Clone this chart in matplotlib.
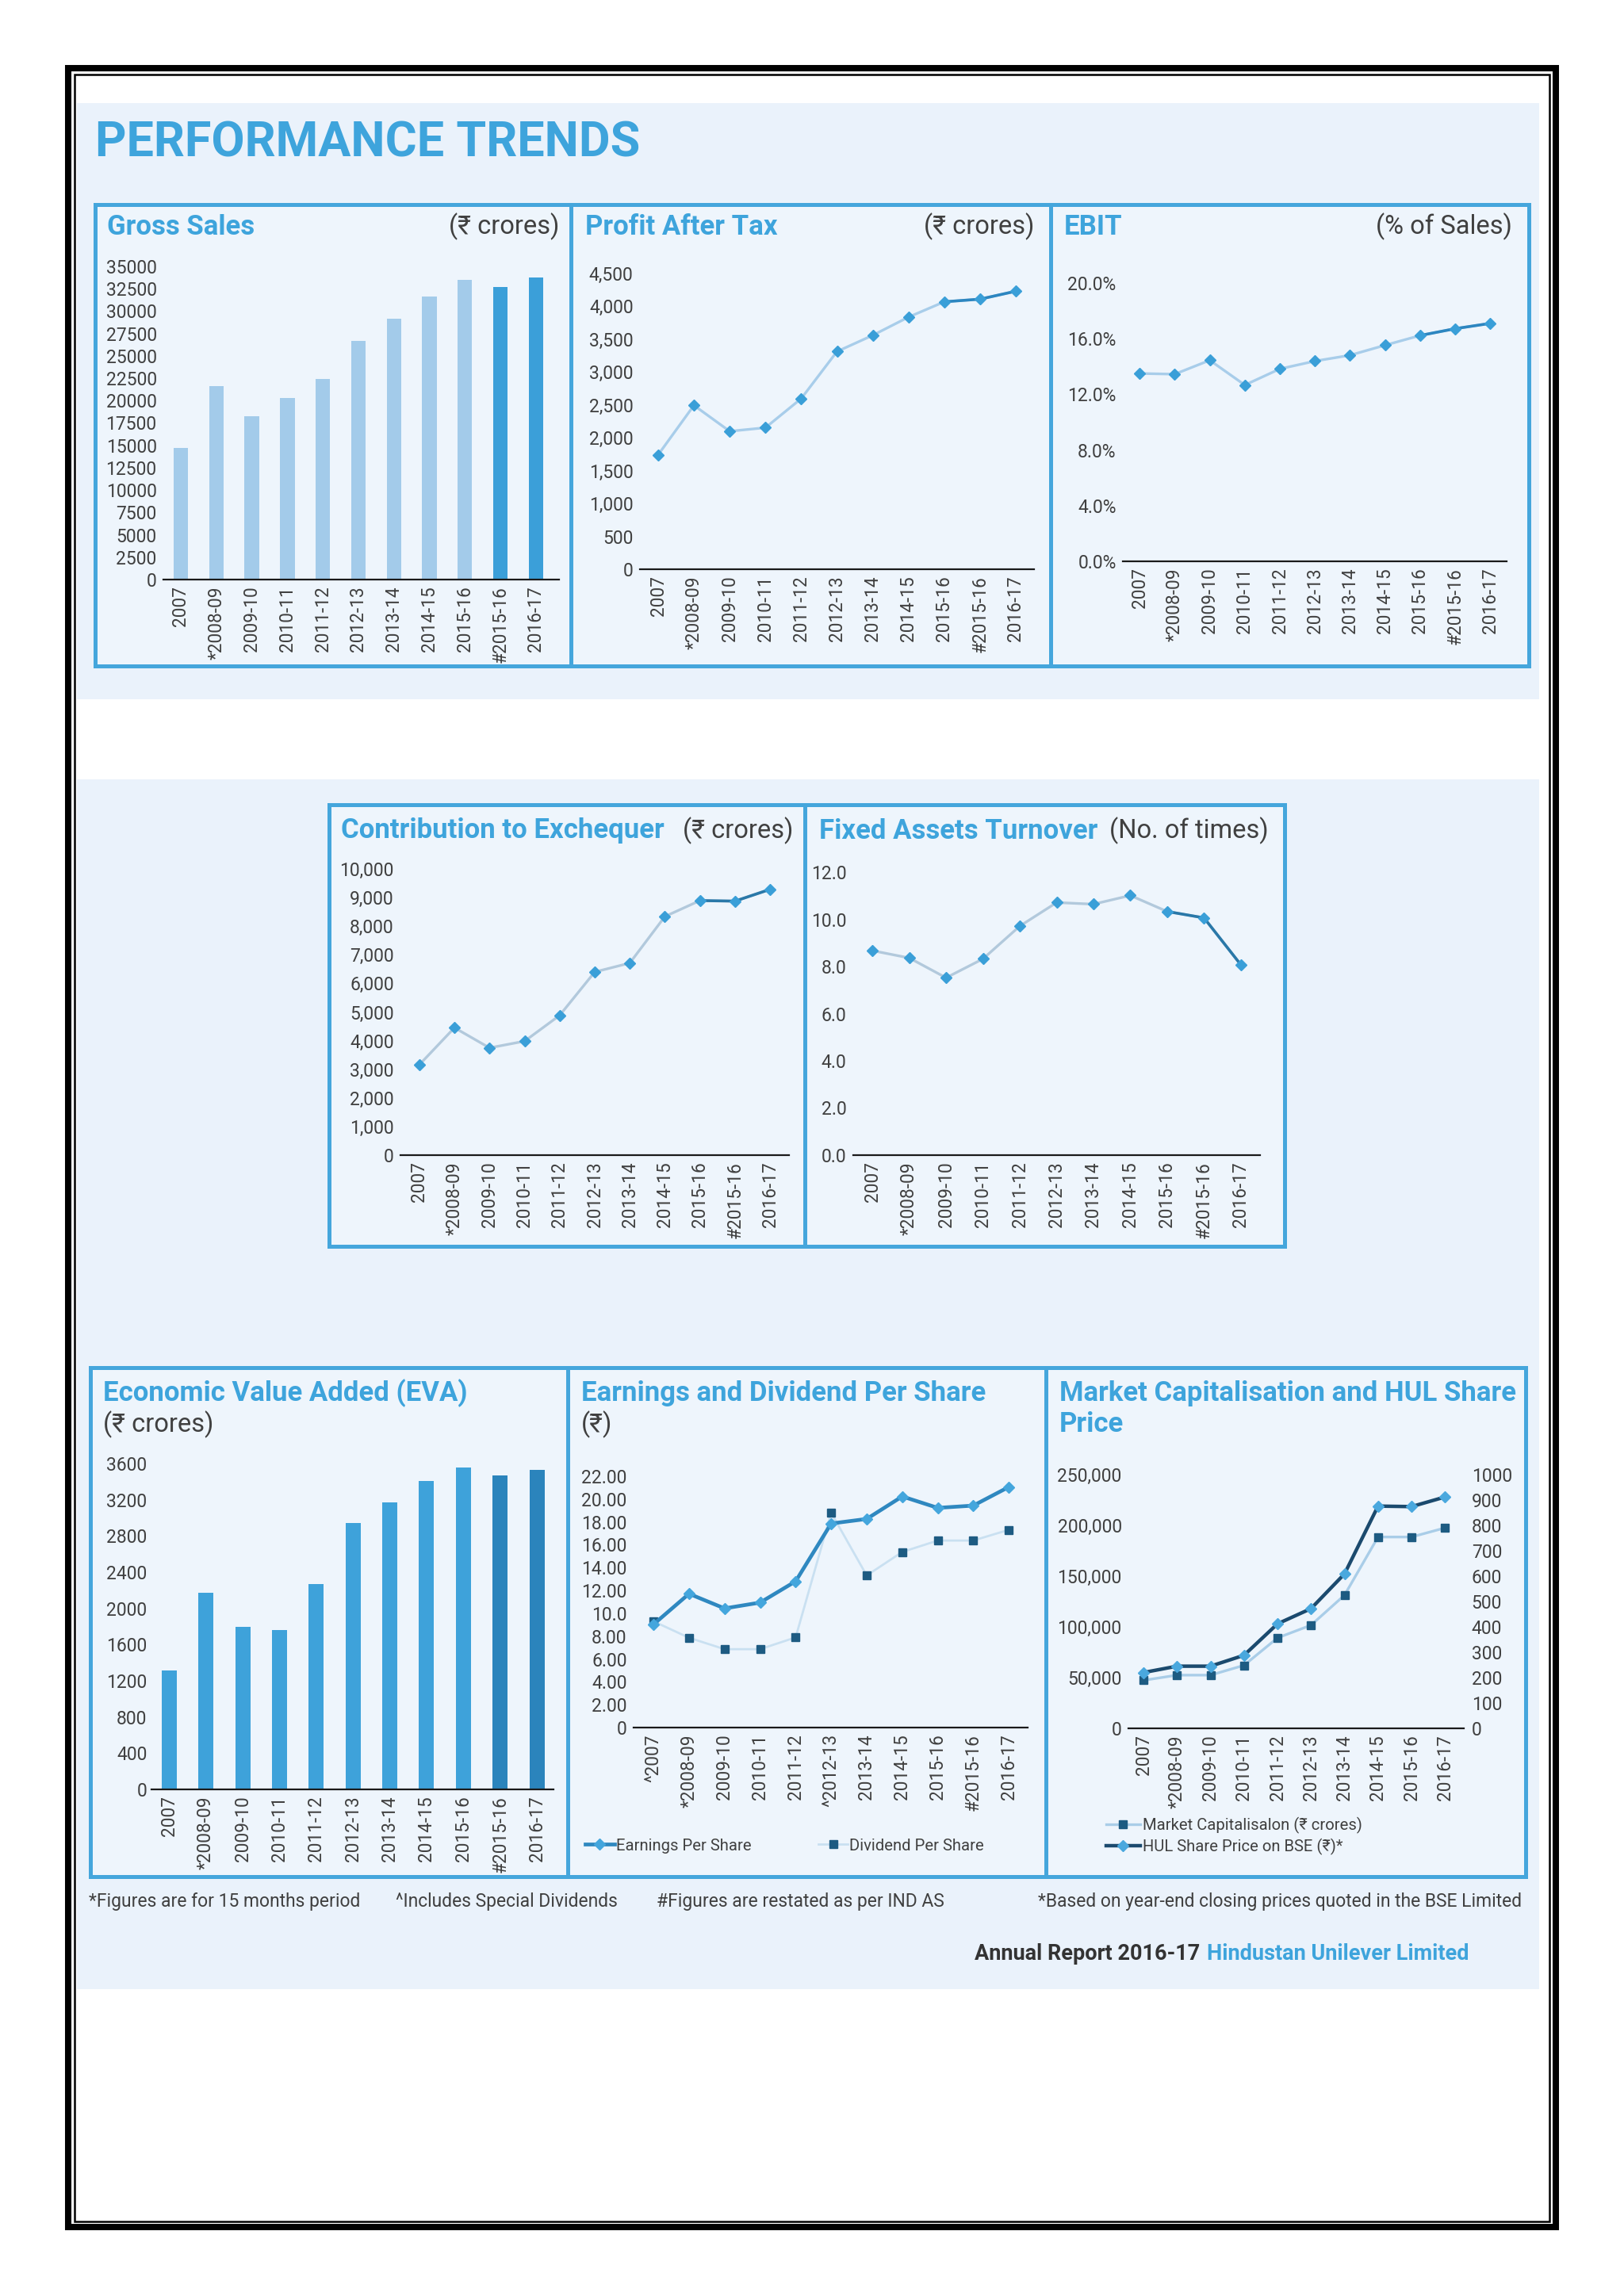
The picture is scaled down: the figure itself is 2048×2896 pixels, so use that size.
import matplotlib
matplotlib.use('Agg')
import matplotlib.pyplot as plt
from matplotlib.patches import Rectangle

plt.rcParams['font.family'] = ['Roboto', 'DejaVu Sans']

W, H = 2048, 2896
BLUE = '#3ea4dc'
GREY = '#404040'

# ---- data ----
years = ['2007', '*2008-09', '2009-10', '2010-11', '2011-12', '2012-13',
         '2013-14', '2014-15', '2015-16', '#2015-16', '2016-17']
years_eps = ['^2007', '*2008-09', '2009-10', '2010-11', '2011-12', '^2012-13',
             '2013-14', '2014-15', '2015-16', '#2015-16', '2016-17']
years_mcap = ['2007', '*2008-09', '2009-10', '2010-11', '2011-12', '2012-13',
              '2013-14', '2014-15', '2015-16', '2016-17']

gross_sales = [14700, 21650, 18240, 20280, 22410, 26690, 29120, 31620, 33490, 32700, 33720]
pat = [1742, 2494, 2100, 2154, 2597, 3313, 3560, 3837, 4070, 4110, 4231]
ebit = [13.5, 13.45, 14.45, 12.67, 13.83, 14.39, 14.81, 15.53, 16.23, 16.72, 17.1]
exchequer = [3160, 4452, 3748, 3982, 4883, 6399, 6712, 8337, 8894, 8875, 9286]
fat = [8.67, 8.36, 7.52, 8.32, 9.71, 10.71, 10.64, 11.01, 10.33, 10.06, 8.07]
eva = [1316, 2168, 1796, 1760, 2265, 2947, 3174, 3408, 3556, 3466, 3531]
eps = [9.03, 11.71, 10.43, 10.94, 12.8, 17.86, 18.26, 20.23, 19.23, 19.43, 21.06]
dps = [9.3, 7.86, 6.86, 6.86, 7.89, 18.8, 13.31, 15.37, 16.37, 16.37, 17.31]
mcap = [47300, 52440, 52440, 62100, 89130, 101670, 131270, 188550, 188550, 197560]
share_price = [220, 245, 245, 288, 412, 472, 609, 876, 874, 912]

eps_ticks = [0, 2, 4, 6, 8, 10, 12, 14, 16, 18, 20, 22]
eps_ticklabels = ['0', '2.00', '4.00', '6.00', '8.00', '10.0', '12.00',
                  '14.00', '16.00', '18.00', '20.00', '22.00']

fig = plt.figure(figsize=(W / 100, H / 100), dpi=100)
page = fig.add_axes([0, 0, 1, 1])
page.set_xlim(0, W)
page.set_ylim(H, 0)
page.axis('off')


def rect(x0, y0, x1, y1, **kw):
    page.add_patch(Rectangle((x0, y0), x1 - x0, y1 - y0, **kw))


# page frame
rect(86, 86, 1962, 2809, fill=False, edgecolor='black', linewidth=5.8)
rect(93.5, 93.5, 1954, 2802, fill=False, edgecolor='black', linewidth=1.8)

# light backgrounds
rect(97, 130, 1941, 882, facecolor='#eaf2fb', edgecolor='none')
rect(97, 983, 1941, 2509, facecolor='#eaf2fb', edgecolor='none')

# panel boxes
panels = [(120, 258, 720, 840), (720, 258, 1325, 840), (1325, 258, 1928, 840),
          (415, 1015, 1015, 1572), (1015, 1015, 1620, 1572),
          (114, 1725, 716, 2367), (716, 1725, 1319, 2367), (1319, 1725, 1924, 2367)]
for p in panels:
    rect(*p, facecolor='#eef5fc', edgecolor='#45a6dc', linewidth=3.6)

page.text(120, 180, 'PERFORMANCE TRENDS', fontsize=44, fontweight='bold',
          color=BLUE, ha='left', va='center')


def title(x, y, txt):
    page.text(x, y, txt, fontsize=25, fontweight='bold', color=BLUE,
              ha='left', va='center')


def unit(x, y, txt, ha='right'):
    page.text(x, y, txt, fontsize=23.5, color=GREY, ha=ha, va='center')


def chart_ax(x0, y0, x1, y1, xlim, ylim, cats):
    ax = fig.add_axes([x0 / W, 1 - y1 / H, (x1 - x0) / W, (y1 - y0) / H])
    ax.patch.set_alpha(0)
    for s in ['top', 'right', 'left']:
        ax.spines[s].set_visible(False)
    ax.spines['bottom'].set_color('#1a1a1a')
    ax.spines['bottom'].set_linewidth(1.6)
    ax.tick_params(length=0, colors=GREY, pad=6)
    ax.tick_params(axis='y', labelsize=16.5)
    ax.tick_params(axis='x', labelsize=16.3)
    ax.set_xlim(*xlim)
    ax.set_ylim(*ylim)
    ax.set_xticks(range(len(cats)))
    ax.set_xticklabels(cats, rotation=90)
    return ax


def trend(ax, vals, light, dark):
    x = range(len(vals))
    ax.plot(x, vals, color=light, lw=2.4, clip_on=False, zorder=2)
    ax.plot(list(x)[8:], vals[8:], color=dark, lw=2.6, clip_on=False, zorder=3)
    ax.plot(x, vals, ls='none', marker='D', ms=7.5, color='#3a9fd8',
            clip_on=False, zorder=4)


# ---- Gross Sales ----
title(135, 286, 'Gross Sales')
unit(705, 286, '(₹ crores)')
ax = chart_ax(206, 336, 705, 731, (-0.49, 10.65), (0, 35000), years)
ax.bar(range(len(years)), gross_sales, width=0.41,
       color=['#a3cbea'] * 9 + ['#3b9fd9'] * 2)
ax.set_yticks(range(0, 35001, 2500))

# ---- Profit After Tax ----
title(738, 286, 'Profit After Tax')
unit(1304, 286, '(₹ crores)')
ax = chart_ax(807, 345, 1304, 718, (-0.51, 10.51), (0, 4500), years)
trend(ax, pat, '#a8cdea', '#2d86c0')
ax.set_yticks(range(0, 4501, 500))
ax.set_yticklabels([f'{v:,}' for v in range(0, 4501, 500)])

# ---- EBIT ----
title(1342, 286, 'EBIT')
unit(1907, 286, '(% of Sales)')
ax = chart_ax(1416, 357, 1900, 708, (-0.48, 10.47), (0, 20), years)
trend(ax, ebit, '#a8cdea', '#2d86c0')
ax.set_yticks(range(0, 21, 4))
ax.set_yticklabels([f'{v:.1f}%' for v in range(0, 21, 4)])

# ---- Contribution to Exchequer ----
title(430, 1048, 'Contribution to Exchequer')
unit(1000, 1048, '(₹ crores)')
ax = chart_ax(505, 1096, 995, 1457, (-0.54, 10.54), (0, 10000), years)
trend(ax, exchequer, '#b2c9dc', '#2a78a8')
ax.set_yticks(range(0, 10001, 1000))
ax.set_yticklabels([f'{v:,}' for v in range(0, 10001, 1000)])

# ---- Fixed Assets Turnover ----
title(1033, 1048, 'Fixed Assets Turnover')
unit(1600, 1048, '(No. of times)')
ax = chart_ax(1076, 1100, 1589, 1457, (-0.52, 10.52), (0, 12), years)
trend(ax, fat, '#b2c9dc', '#2a78a8')
ax.set_yticks(range(0, 13, 2))
ax.set_yticklabels([f'{v:.1f}' for v in range(0, 13, 2)])

# ---- EVA ----
title(130, 1757, 'Economic Value Added (EVA)')
unit(130, 1797, '(₹ crores)', ha='left')
ax = chart_ax(191, 1846, 698, 2257, (-0.48, 10.45), (0, 3600), years)
ax.bar(range(len(years)), eva, width=0.41,
       color=['#3ea2da'] * 9 + ['#2b84bc'] * 2)
ax.set_yticks(range(0, 3601, 400))
ax.tick_params(axis='y', pad=4)

# ---- EPS / DPS ----
title(733, 1757, 'Earnings and Dividend Per Share')
unit(733, 1797, '(₹)', ha='left')
ax = chart_ax(799, 1862, 1296, 2179, (-0.56, 10.53), (0, 22), years_eps)
x = range(len(years_eps))
l_dps, = ax.plot(x, dps, color='#c9e0f1', lw=2, marker='s', ms=7,
                 mfc='#1d5b82', mec='#1d5b82', clip_on=False, zorder=2)
l_eps, = ax.plot(x, eps, color='#2f88c0', lw=3.4, marker='D', ms=7.5,
                 mfc='#44a6dd', mec='#44a6dd', clip_on=False, zorder=3)
ax.set_yticks(eps_ticks)
ax.set_yticklabels(eps_ticklabels)
ax.legend([l_eps, l_dps], ['Earnings Per Share', 'Dividend Per Share'],
          loc='center left', bbox_to_anchor=(738, 2328),
          bbox_transform=page.transData, ncol=2, frameon=False,
          fontsize=14.6, handlelength=1.8, handletextpad=0.1,
          columnspacing=4.2, borderaxespad=0, borderpad=0,
          labelcolor=GREY)

# ---- Market Cap / Share Price ----
title(1336, 1757, 'Market Capitalisation and HUL Share')
title(1336, 1797, 'Price')
ax = chart_ax(1423, 1860, 1846, 2180, (-0.45, 9.56), (0, 250000), years_mcap)
ax.set_yticks(range(0, 250001, 50000))
ax.set_yticklabels([f'{v:,}' for v in range(0, 250001, 50000)])
x = range(len(years_mcap))
l_mc, = ax.plot(x, mcap, color='#a9cde8', lw=2.4, marker='s', ms=7,
                mfc='#1d5b82', mec='#1d5b82', clip_on=False, zorder=2)
ax2 = ax.twinx()
ax2.patch.set_alpha(0)
for s in ['top', 'right', 'left', 'bottom']:
    ax2.spines[s].set_visible(False)
ax2.set_ylim(0, 1000)
ax2.set_yticks(range(0, 1001, 100))
ax2.tick_params(length=0, labelsize=16.5, colors=GREY, pad=7)
l_sp, = ax2.plot(x, share_price, color='#1b4a6e', lw=3.2, marker='D', ms=7.5,
                 mfc='#4aa8de', mec='#4aa8de', clip_on=False, zorder=3)
ax.legend([l_mc, l_sp], ['Market Capitalisalon (₹ crores)', 'HUL Share Price on BSE (₹)*'],
          loc='center left', bbox_to_anchor=(1395, 2316),
          bbox_transform=page.transData, frameon=False, fontsize=14.6,
          handlelength=2.1, handletextpad=0.15, labelspacing=0.3,
          borderaxespad=0, borderpad=0, labelcolor=GREY)

# ---- footnotes ----
notes = [(112, '*Figures are for 15 months period', 'left'),
         (499, '^Includes Special Dividends', 'left'),
         (828, '#Figures are restated as per IND AS', 'left'),
         (1919, '*Based on year-end closing prices quoted in the BSE Limited', 'right')]
for nx, txt, al in notes:
    page.text(nx, 2399, txt, fontsize=16.5, color=GREY, ha=al, va='center')

co = page.text(1852, 2465, 'Hindustan Unilever Limited', fontsize=19.5,
               fontweight='bold', color=BLUE, ha='right', va='center')
fig.canvas.draw()
bb = co.get_window_extent().transformed(page.transData.inverted())
page.text(min(bb.x0, bb.x1) - 8, 2465, 'Annual Report 2016-17', fontsize=19.5,
          fontweight='bold', color='#333333', ha='right', va='center')

fig.savefig('out.png', dpi=100, facecolor='white')
